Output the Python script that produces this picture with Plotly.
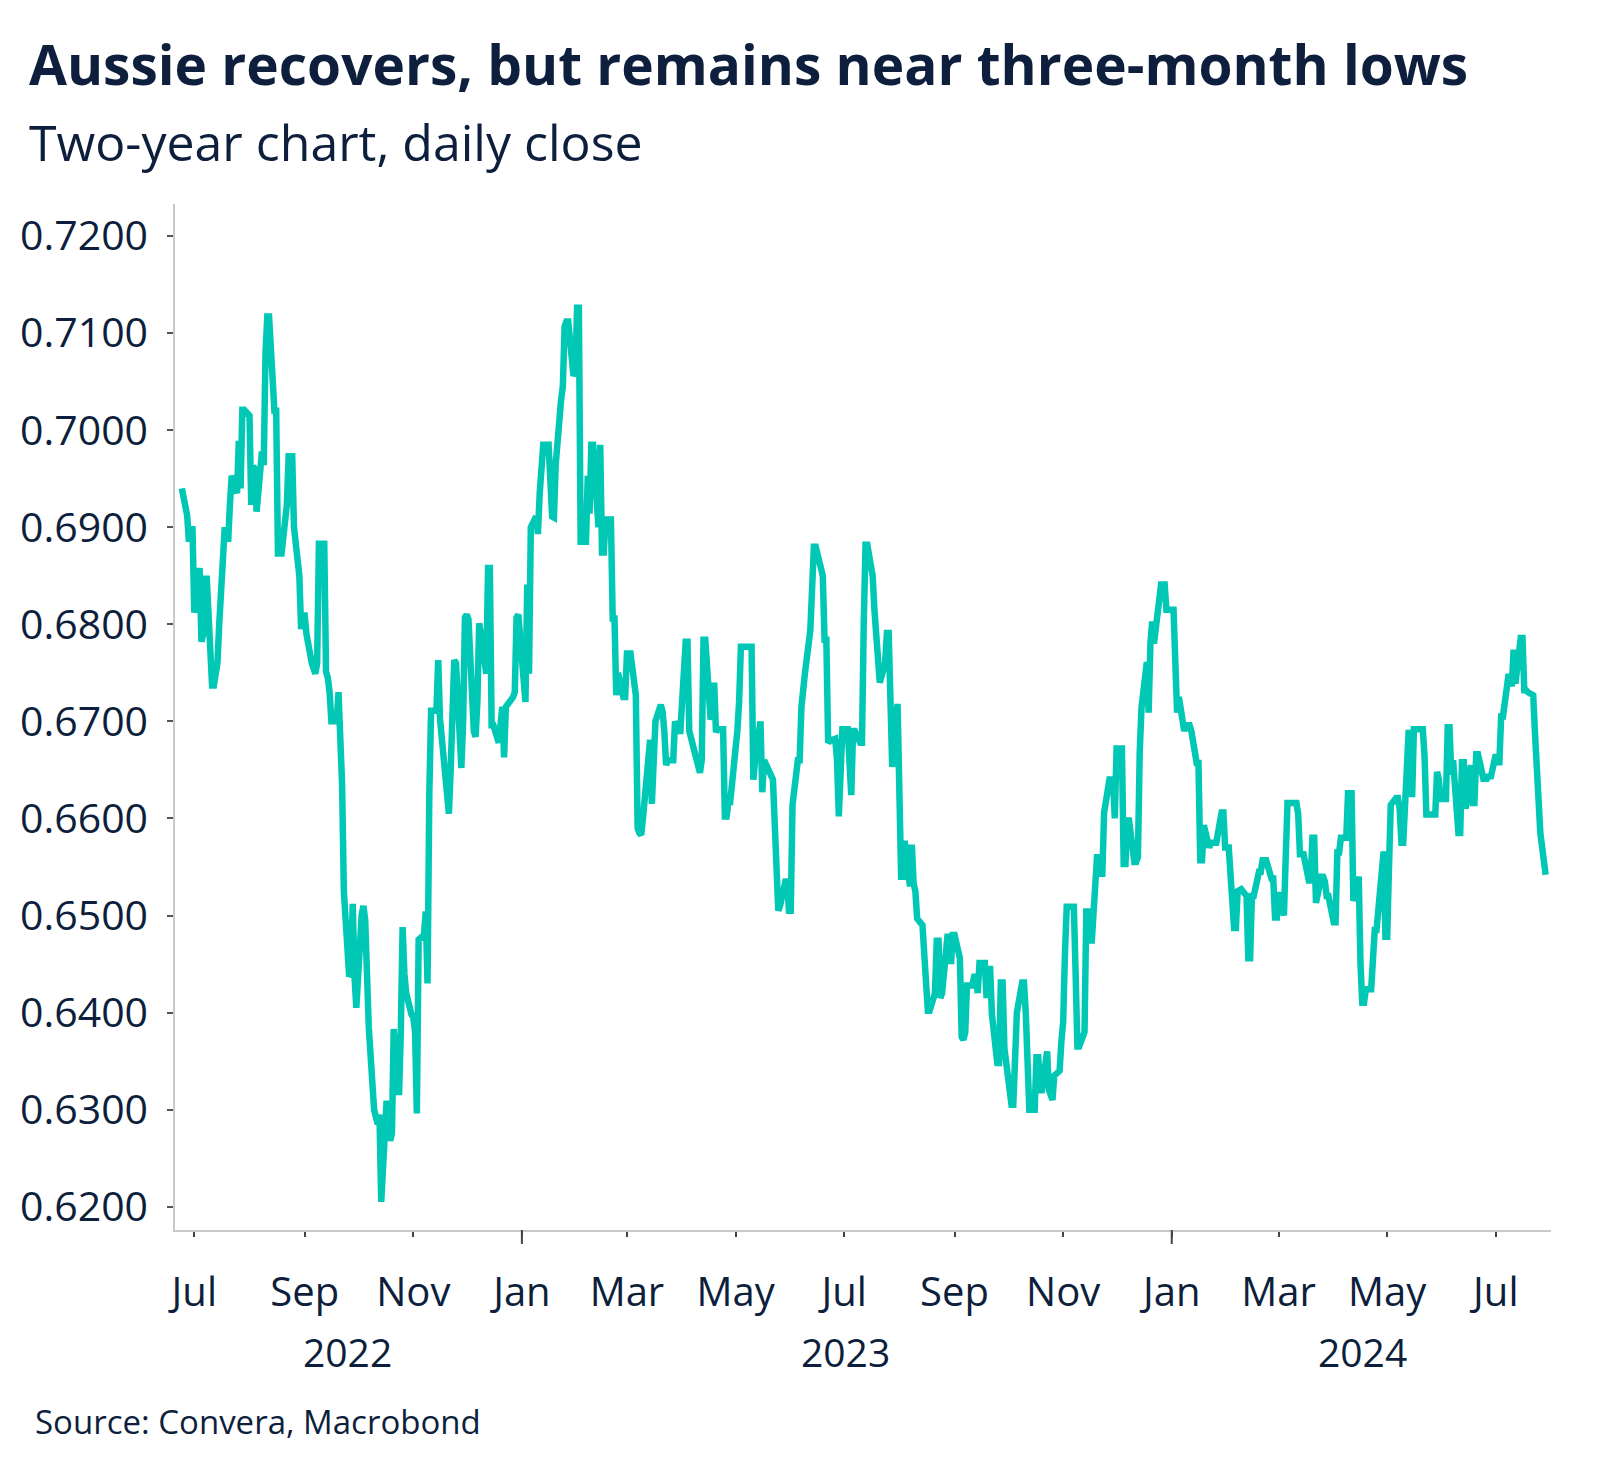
import plotly.graph_objects as go

# ---- data ----
days_2022 = ["06-24","06-27","06-28","06-29","06-30","07-01","07-04","07-05","07-06","07-07","07-08","07-11","07-12","07-13","07-14","07-15","07-18","07-19","07-20","07-21","07-22","07-25","07-26","07-27","07-28","07-29","08-01","08-02","08-03","08-04","08-05","08-08","08-09","08-10","08-11","08-12","08-15","08-16","08-17","08-18","08-19","08-22","08-23","08-24","08-25","08-26","08-29","08-30","08-31","09-01","09-02","09-05","09-06","09-07","09-08","09-09","09-12","09-13","09-14","09-15","09-16","09-19","09-20","09-21","09-22","09-23","09-26","09-27","09-28","09-29","09-30","10-03","10-04","10-05","10-06","10-07","10-10","10-11","10-12","10-13","10-14","10-17","10-18","10-19","10-20","10-21","10-24","10-25","10-26","10-27","10-28","10-31","11-01","11-02","11-03","11-04","11-07","11-08","11-09","11-10","11-11","11-14","11-15","11-16","11-17","11-18","11-21","11-22","11-23","11-24","11-25","11-28","11-29","11-30","12-01","12-02","12-05","12-06","12-07","12-08","12-09","12-12","12-13","12-14","12-15","12-16","12-19","12-20","12-21","12-22","12-23","12-27","12-28","12-29","12-30"]
close_2022 = [0.6940,0.6912,0.6885,0.6898,0.6898,0.6812,0.6858,0.6782,0.6790,0.6847,0.6847,0.6737,0.6737,0.6749,0.6760,0.6800,0.6897,0.6897,0.6885,0.6923,0.6953,0.6935,0.6989,0.6940,0.7021,0.7021,0.7015,0.6923,0.6963,0.6960,0.6916,0.6978,0.6964,0.7080,0.7117,0.7117,0.7020,0.7020,0.6873,0.6873,0.6873,0.6923,0.6973,0.6973,0.6973,0.6900,0.6850,0.6795,0.6809,0.6809,0.6790,0.6760,0.6750,0.6749,0.6760,0.6883,0.6883,0.6751,0.6745,0.6730,0.6700,0.6700,0.6730,0.6680,0.6636,0.6525,0.6437,0.6440,0.6512,0.6437,0.6405,0.6500,0.6510,0.6495,0.6430,0.6385,0.6300,0.6290,0.6285,0.6295,0.6205,0.6309,0.6300,0.6268,0.6275,0.6383,0.6315,0.6380,0.6488,0.6440,0.6420,0.6398,0.6395,0.6380,0.6296,0.6475,0.6480,0.6504,0.6430,0.6625,0.6711,0.6711,0.6763,0.6703,0.6680,0.6665,0.6605,0.6650,0.6745,0.6763,0.6760,0.6652,0.6700,0.6807,0.6810,0.6805,0.6690,0.6684,0.6720,0.6801,0.6790,0.6749,0.6858,0.6858,0.6696,0.6696,0.6678,0.6704,0.6715,0.6663,0.6715,0.6725,0.6730,0.6807,0.6810]

days_2023 = ["01-03","01-04","01-05","01-06","01-09","01-10","01-11","01-12","01-13","01-16","01-17","01-18","01-19","01-20","01-23","01-24","01-25","01-26","01-27","01-30","01-31","02-01","02-02","02-03","02-06","02-07","02-08","02-09","02-10","02-13","02-14","02-15","02-16","02-17","02-20","02-21","02-22","02-23","02-24","02-27","02-28","03-01","03-02","03-03","03-06","03-07","03-08","03-09","03-10","03-13","03-14","03-15","03-16","03-17","03-20","03-21","03-22","03-23","03-24","03-27","03-28","03-29","03-30","03-31","04-03","04-04","04-05","04-06","04-10","04-11","04-12","04-13","04-14","04-17","04-18","04-19","04-20","04-21","04-24","04-25","04-26","04-27","04-28","05-01","05-02","05-03","05-04","05-05","05-08","05-09","05-10","05-11","05-12","05-15","05-16","05-17","05-18","05-19","05-22","05-23","05-24","05-25","05-26","05-29","05-30","05-31","06-01","06-02","06-05","06-06","06-07","06-08","06-09","06-12","06-13","06-14","06-15","06-16","06-19","06-20","06-21","06-22","06-23","06-26","06-27","06-28","06-29","06-30","07-03","07-05","07-06","07-07","07-10","07-11","07-12","07-13","07-14","07-17","07-18","07-19","07-20","07-21","07-24","07-25","07-26","07-27","07-28","07-31","08-01","08-02","08-03","08-04","08-07","08-08","08-09","08-10","08-11","08-14","08-15","08-16","08-17","08-18","08-21","08-22","08-23","08-24","08-25","08-28","08-29","08-30","08-31","09-01","09-04","09-05","09-06","09-07","09-08","09-11","09-12","09-13","09-14","09-15","09-18","09-19","09-20","09-21","09-22","09-25","09-26","09-27","09-28","09-29","10-02","10-03","10-04","10-05","10-06","10-09","10-10","10-11","10-12","10-13","10-16","10-17","10-18","10-19","10-20","10-23","10-24","10-25","10-26","10-27","10-30","10-31","11-01","11-02","11-03","11-06","11-07","11-08","11-09","11-10","11-13","11-14","11-15","11-16","11-17","11-20","11-21","11-22","11-23","11-24","11-27","11-28","11-29","11-30","12-01","12-04","12-05","12-06","12-07","12-08","12-11","12-12","12-13","12-14","12-15","12-18","12-19","12-20","12-21","12-22","12-26","12-27","12-28","12-29"]
close_2023 = [0.6720,0.6841,0.6749,0.6900,0.6911,0.6893,0.6935,0.6980,0.6985,0.6985,0.6953,0.6911,0.6910,0.6965,0.7031,0.7045,0.7107,0.7112,0.7112,0.7056,0.7060,0.7126,0.7126,0.6885,0.6885,0.6953,0.6914,0.6985,0.6985,0.6900,0.6985,0.6874,0.6874,0.6908,0.6908,0.6806,0.6806,0.6727,0.6750,0.6725,0.6725,0.6770,0.6770,0.6770,0.6727,0.6590,0.6585,0.6583,0.6600,0.6660,0.6681,0.6615,0.6665,0.6700,0.6717,0.6710,0.6690,0.6655,0.6660,0.6660,0.6700,0.6695,0.6690,0.6690,0.6782,0.6782,0.6690,0.6683,0.6650,0.6647,0.6660,0.6784,0.6784,0.6702,0.6707,0.6740,0.6689,0.6692,0.6692,0.6602,0.6602,0.6617,0.6617,0.6665,0.6690,0.6720,0.6777,0.6777,0.6777,0.6777,0.6777,0.6640,0.6660,0.6700,0.6627,0.6660,0.6655,0.6652,0.6640,0.6600,0.6545,0.6505,0.6510,0.6535,0.6535,0.6505,0.6505,0.6614,0.6660,0.6660,0.6715,0.6740,0.6750,0.6794,0.6840,0.6880,0.6880,0.6871,0.6850,0.6784,0.6784,0.6678,0.6680,0.6682,0.6660,0.6602,0.6660,0.6692,0.6692,0.6624,0.6690,0.6690,0.6678,0.6678,0.6800,0.6882,0.6882,0.6850,0.6815,0.6790,0.6775,0.6740,0.6760,0.6791,0.6791,0.6730,0.6653,0.6718,0.6560,0.6540,0.6540,0.6577,0.6530,0.6573,0.6533,0.6525,0.6497,0.6490,0.6460,0.6425,0.6402,0.6402,0.6420,0.6474,0.6474,0.6415,0.6420,0.6478,0.6478,0.6450,0.6480,0.6480,0.6456,0.6375,0.6372,0.6380,0.6428,0.6428,0.6437,0.6437,0.6420,0.6451,0.6451,0.6415,0.6445,0.6445,0.6398,0.6348,0.6348,0.6431,0.6431,0.6363,0.6317,0.6305,0.6305,0.6370,0.6400,0.6431,0.6431,0.6400,0.6340,0.6300,0.6300,0.6354,0.6354,0.6320,0.6320,0.6360,0.6320,0.6315,0.6310,0.6335,0.6340,0.6370,0.6390,0.6460,0.6509,0.6509,0.6509,0.6440,0.6365,0.6365,0.6380,0.6504,0.6504,0.6504,0.6471,0.6560,0.6560,0.6543,0.6543,0.6606,0.6640,0.6640,0.6640,0.6600,0.6672,0.6672,0.6553,0.6553,0.6598,0.6598,0.6555,0.6555,0.6560,0.6668,0.6714,0.6761,0.6709,0.6780,0.6803,0.6780,0.6841,0.6841,0.6841,0.6815]

days_2024 = ["01-02","01-03","01-04","01-05","01-08","01-09","01-10","01-11","01-12","01-15","01-16","01-17","01-18","01-19","01-22","01-23","01-24","01-25","01-26","01-29","01-30","01-31","02-01","02-02","02-05","02-06","02-07","02-08","02-09","02-12","02-13","02-14","02-15","02-16","02-19","02-20","02-21","02-22","02-23","02-26","02-27","02-28","02-29","03-01","03-04","03-05","03-06","03-07","03-08","03-11","03-12","03-13","03-14","03-15","03-18","03-19","03-20","03-21","03-22","03-25","03-26","03-27","03-28","03-29","04-01","04-02","04-03","04-04","04-05","04-08","04-09","04-10","04-11","04-12","04-15","04-16","04-17","04-18","04-19","04-22","04-23","04-24","04-25","04-26","04-29","04-30","05-01","05-02","05-03","05-06","05-07","05-08","05-09","05-10","05-13","05-14","05-15","05-16","05-17","05-20","05-21","05-22","05-23","05-24","05-27","05-28","05-29","05-30","05-31","06-03","06-04","06-05","06-06","06-07","06-10","06-11","06-12","06-13","06-14","06-17","06-18","06-19","06-20","06-21","06-24","06-25","06-26","06-27","06-28","07-01","07-02","07-03","07-04","07-05","07-08","07-09","07-10","07-11","07-12","07-15","07-16","07-17","07-18","07-19","07-22","07-23","07-24","07-25","07-26","07-29"]
close_2024 = [0.6815,0.6761,0.6709,0.6725,0.6690,0.6696,0.6696,0.6696,0.6690,0.6657,0.6657,0.6557,0.6557,0.6593,0.6570,0.6575,0.6575,0.6575,0.6575,0.6606,0.6606,0.6570,0.6570,0.6570,0.6487,0.6487,0.6525,0.6527,0.6527,0.6520,0.6456,0.6456,0.6520,0.6520,0.6545,0.6545,0.6557,0.6557,0.6557,0.6538,0.6538,0.6498,0.6498,0.6524,0.6500,0.6560,0.6616,0.6616,0.6616,0.6616,0.6605,0.6563,0.6563,0.6563,0.6536,0.6536,0.6580,0.6580,0.6513,0.6540,0.6540,0.6535,0.6520,0.6520,0.6493,0.6493,0.6565,0.6565,0.6580,0.6580,0.6626,0.6626,0.6626,0.6515,0.6540,0.6450,0.6410,0.6410,0.6424,0.6424,0.6460,0.6485,0.6485,0.6510,0.6566,0.6478,0.6478,0.6550,0.6614,0.6621,0.6621,0.6610,0.6575,0.6575,0.6688,0.6688,0.6622,0.6692,0.6692,0.6692,0.6692,0.6663,0.6604,0.6604,0.6604,0.6604,0.6648,0.6640,0.6620,0.6620,0.6694,0.6694,0.6645,0.6660,0.6585,0.6585,0.6658,0.6658,0.6610,0.6655,0.6616,0.6616,0.6666,0.6666,0.6641,0.6641,0.6641,0.6645,0.6641,0.6666,0.6658,0.6658,0.6705,0.6705,0.6746,0.6746,0.6736,0.6774,0.6739,0.6786,0.6786,0.6732,0.6732,0.6730,0.6727,0.6688,0.6640,0.6610,0.6585,0.6542]

year_labels = ["2022", "2023", "2024"]
year_label_dates = ["2022-09-25", "2023-07-02", "2024-04-17"]
year_boundaries = ["2023-01-01", "2024-01-01"]

TITLE = "Aussie recovers, but remains near three-month lows"
SUBTITLE = "Two-year chart, daily close"
SOURCE = "Source: Convera, Macrobond"

# ---- build ----
dates = ([f"2022-{d}" for d in days_2022] + [f"2023-{d}" for d in days_2023]
         + [f"2024-{d}" for d in days_2024])
values = close_2022 + close_2023 + close_2024

NAVY = "#0d1f3c"
TEAL = "#00c8b4"
FONT = "Open Sans"

fig = go.Figure()
fig.add_trace(go.Scatter(x=dates, y=values, mode="lines",
                         line=dict(color=TEAL, width=6.5), hoverinfo="x+y"))

annotations = [
    dict(text=f"<b>{TITLE}</b>", xref="paper", yref="paper", x=-0.1075, y=1.1365,
         xanchor="left", yanchor="middle", showarrow=False,
         font=dict(family=FONT, size=55, color=NAVY)),
    dict(text=SUBTITLE, xref="paper", yref="paper", x=-0.1075, y=1.0605,
         xanchor="left", yanchor="middle", showarrow=False,
         font=dict(family=FONT, size=50, color=NAVY)),
    dict(text=SOURCE, xref="paper", yref="paper", x=-0.1035, y=-0.1862,
         xanchor="left", yanchor="middle", showarrow=False,
         font=dict(family=FONT, size=33, color=NAVY)),
]
for lab, d in zip(year_labels, year_label_dates):
    annotations.append(dict(text=lab, xref="x", yref="paper", x=d, y=-0.1189,
                            xanchor="center", yanchor="middle", showarrow=False,
                            font=dict(family=FONT, size=39, color=NAVY)))

shapes = [dict(type="line", xref="x", yref="paper", x0=d, x1=d, y0=0, y1=-14 / 1026,
               line=dict(color="#444444", width=2)) for d in year_boundaries]

fig.update_layout(
    width=1600, height=1479,
    margin=dict(l=175, r=49, t=204, b=249),
    paper_bgcolor="white", plot_bgcolor="white",
    showlegend=False,
    annotations=annotations, shapes=shapes,
    font=dict(family=FONT, color=NAVY),
)
fig.update_xaxes(
    type="date", range=["2022-06-20 04:00", "2024-08-01"],
    tick0="2022-07-01", dtick="M2", tickformat="%b",
    ticks="outside", ticklen=5, tickwidth=2, tickcolor="#444444",
    showline=True, linecolor="#c8c8c8", linewidth=1.5,
    showgrid=False, zeroline=False,
    tickfont=dict(family=FONT, size=40, color=NAVY),
    ticklabelstandoff=21,
)
fig.update_yaxes(
    range=[0.6176, 0.7233], tick0=0.62, dtick=0.01, tickformat=".4f",
    ticks="outside", ticklen=6, tickwidth=1.5, tickcolor="#555555",
    showline=True, linecolor="#c8c8c8", linewidth=1.5,
    showgrid=False, zeroline=False,
    tickfont=dict(family=FONT, size=41, color=NAVY),
    ticklabelstandoff=11,
)

fig.write_html("out.html", config={"displayModeBar": False},
               post_script="document.body.style.margin='0px';")
